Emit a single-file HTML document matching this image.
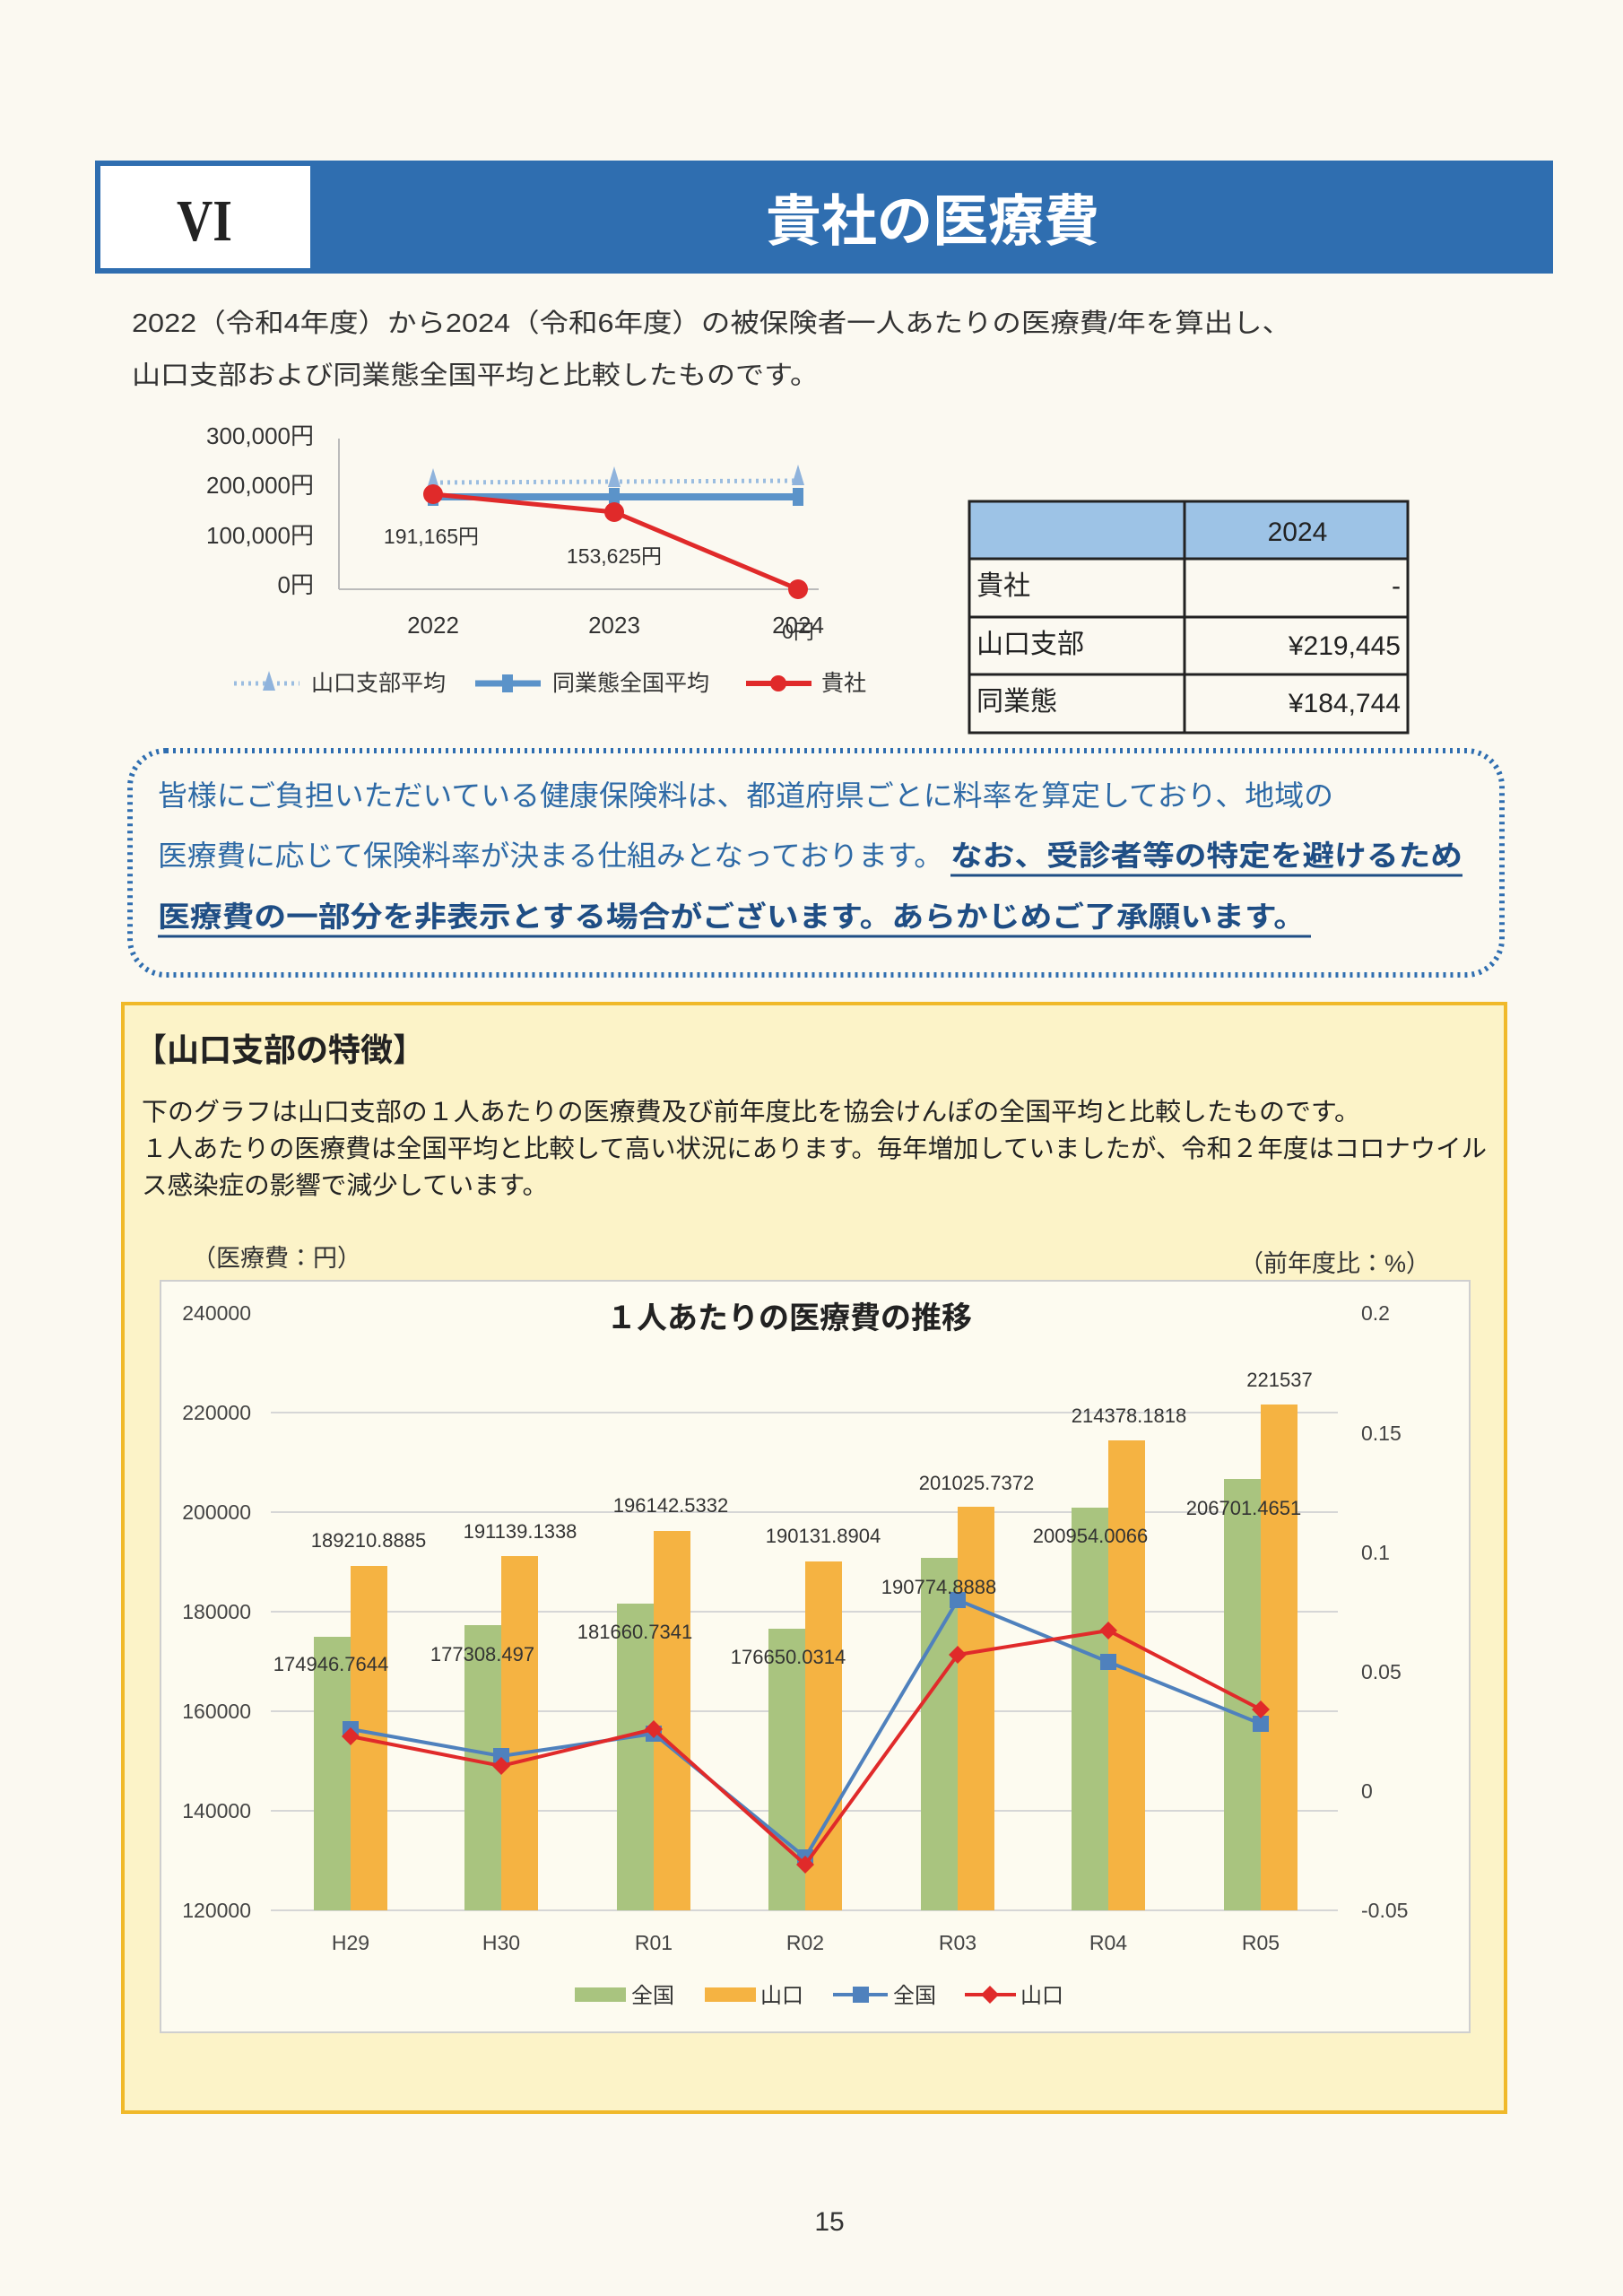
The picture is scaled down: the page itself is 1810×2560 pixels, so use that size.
<!DOCTYPE html>
<html><head><meta charset="utf-8"><style>
html,body{margin:0;padding:0;background:#fbf9f1;}
svg{display:block;font-family:"Liberation Sans","Noto Sans CJK JP",sans-serif;}
</style></head><body>
<svg width="1810" height="2560" viewBox="0 0 1810 2560" xmlns="http://www.w3.org/2000/svg">
<rect width="1810" height="2560" fill="#fbf9f1"/>
<!-- header -->
<rect x="106" y="179" width="1626" height="126" fill="#2f6eb0"/>
<rect x="112" y="185" width="234" height="114" fill="#fff"/>
<text x="228" y="268" font-family="Liberation Serif,serif" font-size="66" font-weight="bold" text-anchor="middle" fill="#222" textLength="62" lengthAdjust="spacingAndGlyphs">VI</text>
<text x="1040" y="268" font-size="62" font-weight="bold" text-anchor="middle" fill="#fff">貴社の医療費</text>
<text x="147" y="370" font-size="29" fill="#333" textLength="1293" lengthAdjust="spacingAndGlyphs">2022（令和4年度）から2024（令和6年度）の被保険者一人あたりの医療費/年を算出し、</text>
<text x="147" y="428" font-size="29" fill="#333" textLength="766" lengthAdjust="spacingAndGlyphs">山口支部および同業態全国平均と比較したものです。</text>
<!-- small chart -->
<g font-size="26" fill="#333">
<text x="350" y="495" text-anchor="end">300,000円</text>
<text x="350" y="550" text-anchor="end">200,000円</text>
<text x="350" y="606" text-anchor="end">100,000円</text>
<text x="350" y="661" text-anchor="end">0円</text>
<text x="483" y="706" text-anchor="middle">2022</text>
<text x="685" y="706" text-anchor="middle">2023</text>
<text x="890" y="706" text-anchor="middle">2024</text>
</g>
<line x1="378" y1="489" x2="378" y2="657" stroke="#bbb" stroke-width="2"/>
<line x1="378" y1="657" x2="913" y2="657" stroke="#bbb" stroke-width="2"/>
<line x1="483" y1="538" x2="890" y2="536" stroke="#9bbde0" stroke-width="5" stroke-dasharray="3 5"/>
<g fill="#8fb3dc"><polygon points="483,522 476,545 490,545"/><polygon points="685,520 678,543 692,543"/><polygon points="890,518 883,541 897,541"/></g>
<line x1="483" y1="554" x2="890" y2="554" stroke="#5b93c9" stroke-width="8"/>
<g fill="#5b93c9"><rect x="477" y="544" width="12" height="20"/><rect x="679" y="544" width="12" height="20"/><rect x="884" y="544" width="12" height="20"/></g>
<polyline points="483,551 685,571 890,657" fill="none" stroke="#e02a2a" stroke-width="5"/>
<g fill="#e02a2a"><circle cx="483" cy="551" r="11"/><circle cx="685" cy="571" r="11"/><circle cx="890" cy="657" r="11"/></g>
<g font-size="23" fill="#333" text-anchor="middle">
<text x="481" y="606">191,165円</text><text x="685" y="628">153,625円</text><text x="890" y="712">0円</text>
</g>
<line x1="261" y1="762" x2="334" y2="762" stroke="#9bbde0" stroke-width="5" stroke-dasharray="3 5"/>
<polygon points="300,748 293,770 307,770" fill="#8fb3dc"/>
<text x="347" y="770" font-size="25" fill="#333">山口支部平均</text>
<line x1="530" y1="762" x2="603" y2="762" stroke="#5b93c9" stroke-width="7"/>
<rect x="560" y="752" width="12" height="20" fill="#5b93c9"/>
<text x="616" y="770" font-size="25" fill="#333">同業態全国平均</text>
<line x1="832" y1="762" x2="905" y2="762" stroke="#e02a2a" stroke-width="6"/>
<circle cx="868" cy="762" r="9" fill="#e02a2a"/>
<text x="916" y="770" font-size="25" fill="#333">貴社</text>
<!-- table -->
<rect x="1081" y="559" width="489" height="64" fill="#9dc3e6"/>
<g stroke="#222" stroke-width="3" fill="none">
<rect x="1081" y="559" width="489" height="258"/>
<line x1="1321" y1="559" x2="1321" y2="817"/>
<line x1="1081" y1="623" x2="1570" y2="623"/>
<line x1="1081" y1="688" x2="1570" y2="688"/>
<line x1="1081" y1="752" x2="1570" y2="752"/>
</g>
<g font-size="30" fill="#222">
<text x="1447" y="603" text-anchor="middle">2024</text>
<text x="1089" y="663">貴社</text><text x="1562" y="663" text-anchor="end">-</text>
<text x="1089" y="728">山口支部</text><text x="1562" y="730" text-anchor="end">¥219,445</text>
<text x="1089" y="792">同業態</text><text x="1562" y="794" text-anchor="end">¥184,744</text>
</g>
<!-- dotted box -->
<rect x="145" y="837" width="1530" height="250" rx="40" fill="none" stroke="#2f6eb0" stroke-width="6" stroke-dasharray="3 5"/>
<text x="176" y="898" font-size="32" fill="#2e6aa6" textLength="1311" lengthAdjust="spacingAndGlyphs">皆様にご負担いただいている健康保険料は、都道府県ごとに料率を算定しており、地域の</text>
<text x="176" y="965" font-size="32" fill="#2e6aa6" textLength="876" lengthAdjust="spacingAndGlyphs">医療費に応じて保険料率が決まる仕組みとなっております。</text>
<text x="1060" y="965" font-size="32" font-weight="bold" fill="#1f4e85" textLength="571" lengthAdjust="spacingAndGlyphs">なお、受診者等の特定を避けるため</text>
<line x1="1060" y1="976" x2="1631" y2="976" stroke="#1f4e85" stroke-width="3"/>
<text x="176" y="1033" font-size="32" font-weight="bold" fill="#1f4e85" textLength="1280" lengthAdjust="spacingAndGlyphs">医療費の一部分を非表示とする場合がございます。あらかじめご了承願います。</text>
<line x1="176" y1="1044" x2="1462" y2="1044" stroke="#1f4e85" stroke-width="3"/>
<!-- yellow box -->
<rect x="137" y="1119" width="1542" height="1236" fill="#fcf3c8" stroke="#f0b92a" stroke-width="4"/>
<text x="150" y="1183" font-size="36" font-weight="bold" fill="#222">【山口支部の特徴】</text>
<text x="158" y="1249" font-size="28" fill="#222" textLength="1359" lengthAdjust="spacingAndGlyphs">下のグラフは山口支部の１人あたりの医療費及び前年度比を協会けんぽの全国平均と比較したものです。</text>
<text x="158" y="1290" font-size="28" fill="#222" textLength="1500" lengthAdjust="spacingAndGlyphs">１人あたりの医療費は全国平均と比較して高い状況にあります。毎年増加していましたが、令和２年度はコロナウイル</text>
<text x="158" y="1331" font-size="28" fill="#222" textLength="453" lengthAdjust="spacingAndGlyphs">ス感染症の影響で減少しています。</text>
<text x="214" y="1412" font-size="27" fill="#333">（医療費：円）</text>
<text x="1595" y="1418" font-size="27" fill="#333" text-anchor="end">（前年度比：%）</text>
<!-- chart frame -->
<rect x="179" y="1428" width="1460" height="838" fill="#fdfbf0" stroke="#cfcfcf" stroke-width="2"/>
<text x="880" y="1481" font-size="34" font-weight="bold" fill="#222" text-anchor="middle">１人あたりの医療費の推移</text>
<g stroke="#d6d6d6" stroke-width="2">
<line x1="302" y1="1575" x2="1492" y2="1575"/><line x1="302" y1="1686" x2="1492" y2="1686"/>
<line x1="302" y1="1797" x2="1492" y2="1797"/><line x1="302" y1="1908" x2="1492" y2="1908"/>
<line x1="302" y1="2019" x2="1492" y2="2019"/><line x1="302" y1="2130" x2="1492" y2="2130"/>
</g>
<g font-size="23" fill="#444" text-anchor="end">
<text x="280" y="1472">240000</text><text x="280" y="1583">220000</text><text x="280" y="1694">200000</text>
<text x="280" y="1805">180000</text><text x="280" y="1916">160000</text><text x="280" y="2027">140000</text><text x="280" y="2138">120000</text>
</g>
<g font-size="23" fill="#444">
<text x="1518" y="1472">0.2</text><text x="1518" y="1606">0.15</text><text x="1518" y="1739">0.1</text>
<text x="1518" y="1872">0.05</text><text x="1518" y="2005">0</text><text x="1518" y="2138">-0.05</text>
</g>
<g fill="#a9c47f">
<rect x="350" y="1825" width="41" height="305"/><rect x="518" y="1812" width="41" height="318"/>
<rect x="688" y="1788" width="41" height="342"/><rect x="857" y="1816" width="41" height="314"/>
<rect x="1027" y="1737" width="41" height="393"/><rect x="1195" y="1681" width="41" height="449"/>
<rect x="1365" y="1649" width="41" height="481"/>
</g>
<g fill="#f5b342">
<rect x="391" y="1746" width="41" height="384"/><rect x="559" y="1735" width="41" height="395"/>
<rect x="729" y="1707" width="41" height="423"/><rect x="898" y="1741" width="41" height="389"/>
<rect x="1068" y="1680" width="41" height="450"/><rect x="1236" y="1606" width="41" height="524"/>
<rect x="1406" y="1566" width="41" height="564"/>
</g>
<polyline points="391,1928 559,1958 729,1933 898,2071 1068,1784 1236,1853 1406,1922" fill="none" stroke="#4f81bd" stroke-width="4"/>
<g fill="#4f81bd">
<rect x="382" y="1919" width="18" height="18"/><rect x="550" y="1949" width="18" height="18"/><rect x="720" y="1924" width="18" height="18"/>
<rect x="889" y="2062" width="18" height="18"/><rect x="1059" y="1775" width="18" height="18"/><rect x="1227" y="1844" width="18" height="18"/><rect x="1397" y="1913" width="18" height="18"/>
</g>
<polyline points="391,1936 559,1969 729,1928 898,2079 1068,1845 1236,1818 1406,1906" fill="none" stroke="#e02a2a" stroke-width="4"/>
<g fill="#e02a2a">
<polygon points="391,1926 401,1936 391,1946 381,1936"/><polygon points="559,1959 569,1969 559,1979 549,1969"/>
<polygon points="729,1918 739,1928 729,1938 719,1928"/><polygon points="898,2069 908,2079 898,2089 888,2079"/>
<polygon points="1068,1835 1078,1845 1068,1855 1058,1845"/><polygon points="1236,1808 1246,1818 1236,1828 1226,1818"/>
<polygon points="1406,1896 1416,1906 1406,1916 1396,1906"/>
</g>
<g font-size="22" fill="#333" text-anchor="middle">
<text x="369" y="1863">174946.7644</text><text x="538" y="1852">177308.497</text><text x="708" y="1827">181660.7341</text>
<text x="879" y="1855">176650.0314</text><text x="1047" y="1777">190774.8888</text><text x="1216" y="1720">200954.0066</text><text x="1387" y="1689">206701.4651</text>
<text x="411" y="1725">189210.8885</text><text x="580" y="1715">191139.1338</text><text x="748" y="1686">196142.5332</text>
<text x="918" y="1720">190131.8904</text><text x="1089" y="1661">201025.7372</text><text x="1259" y="1586">214378.1818</text><text x="1427" y="1546">221537</text>
</g>
<g font-size="23" fill="#444" text-anchor="middle">
<text x="391" y="2174">H29</text><text x="559" y="2174">H30</text><text x="729" y="2174">R01</text><text x="898" y="2174">R02</text>
<text x="1068" y="2174">R03</text><text x="1236" y="2174">R04</text><text x="1406" y="2174">R05</text>
</g>
<rect x="641" y="2216" width="57" height="16" fill="#a9c47f"/>
<text x="704" y="2233" font-size="24" fill="#333">全国</text>
<rect x="786" y="2216" width="57" height="16" fill="#f5b342"/>
<text x="848" y="2233" font-size="24" fill="#333">山口</text>
<line x1="929" y1="2224" x2="990" y2="2224" stroke="#4f81bd" stroke-width="4"/>
<rect x="951" y="2215" width="18" height="18" fill="#4f81bd"/>
<text x="996" y="2233" font-size="24" fill="#333">全国</text>
<line x1="1076" y1="2224" x2="1133" y2="2224" stroke="#e02a2a" stroke-width="4"/>
<polygon points="1104,2214 1114,2224 1104,2234 1094,2224" fill="#e02a2a"/>
<text x="1138" y="2233" font-size="24" fill="#333">山口</text>
<text x="925" y="2487" font-size="30" fill="#333" text-anchor="middle">15</text>
</svg>
</body></html>
